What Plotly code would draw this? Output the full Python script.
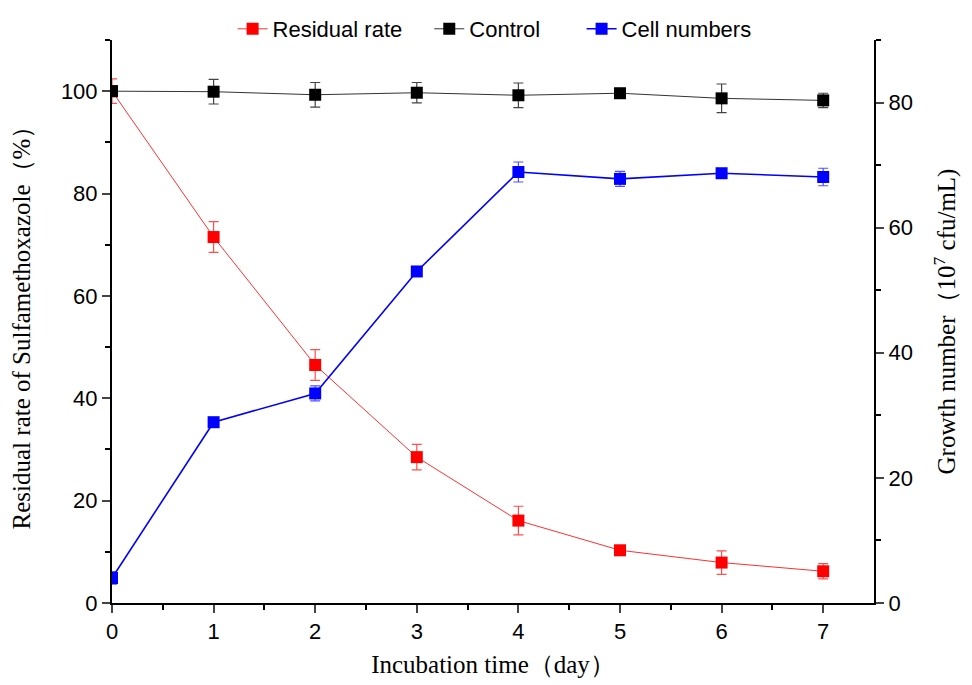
import plotly.graph_objects as go

days = [0, 1, 2, 3, 4, 5, 6, 7]
residual = [100, 71.5, 46.5, 28.5, 16.1, 10.3, 7.9, 6.2]
residual_err = [2.4, 3.0, 3.0, 2.5, 2.8, 0.5, 2.3, 1.5]
control = [100, 99.9, 99.3, 99.7, 99.2, 99.6, 98.6, 98.2]
control_err = [0.0, 2.4, 2.4, 2.0, 2.4, 0.3, 2.8, 1.4]
cells = [4.0, 28.9, 33.5, 53.0, 68.9, 67.8, 68.7, 68.1]
cells_err = [1.0, 0.6, 1.2, 0.5, 1.6, 1.2, 0.6, 1.4]

fig = go.Figure()
fig.add_trace(go.Scatter(
    x=days, y=residual, name="Residual rate", mode="lines+markers", legend="legend",
    line=dict(color="#ff3030", width=1),
    marker=dict(symbol="square", size=12, color="#ff0000"),
    error_y=dict(type="data", array=residual_err, color="#ff5050", thickness=1.2, width=5),
))
fig.add_trace(go.Scatter(
    x=days, y=control, name="Control", mode="lines+markers", legend="legend2",
    line=dict(color="#333333", width=1),
    marker=dict(symbol="square", size=12, color="#000000"),
    error_y=dict(type="data", array=control_err, color="#444444", thickness=1.2, width=5),
))
fig.add_trace(go.Scatter(
    x=days, y=cells, name="Cell numbers", mode="lines+markers", yaxis="y2", legend="legend3",
    line=dict(color="#0000ff", width=1.6),
    marker=dict(symbol="square", size=12, color="#0000ff"),
    error_y=dict(type="data", array=cells_err, color="#5050ff", thickness=1.2, width=5),
))

tickfont = dict(family="Liberation Sans, Arial", size=22, color="black")
titlefont = dict(family="Liberation Serif, Times New Roman", size=25, color="black")
legfont = dict(family="Liberation Sans, Arial", size=22, color="black")

def leg(xpos):
    return dict(orientation="h", x=xpos, xanchor="left", xref="container",
                y=1.0, yanchor="top", yref="container",
                font=legfont, bgcolor="rgba(0,0,0,0)")

fig.update_layout(
    width=964, height=677,
    margin=dict(l=104, r=98, t=32, b=82, autoexpand=False),
    paper_bgcolor="white", plot_bgcolor="white",
    showlegend=True,
    legend=leg(0.233),
    legend2=leg(0.437),
    legend3=leg(0.595),
    xaxis=dict(
        range=[0, 7.5], tickvals=days, ticks="outside", ticklen=8, tickwidth=2,
        showline=True, linecolor="black", linewidth=2, showgrid=False, zeroline=False,
        tickfont=tickfont, automargin=False,
        minor=dict(tickvals=[0.5, 1.5, 2.5, 3.5, 4.5, 5.5, 6.5], ticks="outside", ticklen=5, tickwidth=2, tickcolor="black"),
        title=dict(text="Incubation time（day）", font=titlefont, standoff=12),
    ),
    yaxis=dict(
        range=[0, 110], tickvals=[0, 20, 40, 60, 80, 100], ticks="outside", ticklen=8, tickwidth=2,
        showline=True, linecolor="black", linewidth=2, showgrid=False, zeroline=False,
        tickfont=tickfont, automargin=False,
        minor=dict(tickvals=[10, 30, 50, 70, 90, 110], ticks="outside", ticklen=5, tickwidth=2, tickcolor="black"),
        title=dict(text="Residual rate of Sulfamethoxazole（%）", font=titlefont, standoff=28),
    ),
    yaxis2=dict(
        range=[0, 90], tickvals=[0, 20, 40, 60, 80], ticks="outside", ticklen=8, tickwidth=2,
        overlaying="y", side="right",
        showline=True, linecolor="black", linewidth=2, showgrid=False, zeroline=False,
        tickfont=tickfont, automargin=False,
        minor=dict(tickvals=[10, 30, 50, 70, 90], ticks="outside", ticklen=5, tickwidth=2, tickcolor="black"),
        title=dict(text="Growth number（10<sup>7</sup> cfu/mL)", font=titlefont, standoff=26),
    ),
)

fig.write_html("out.html")
